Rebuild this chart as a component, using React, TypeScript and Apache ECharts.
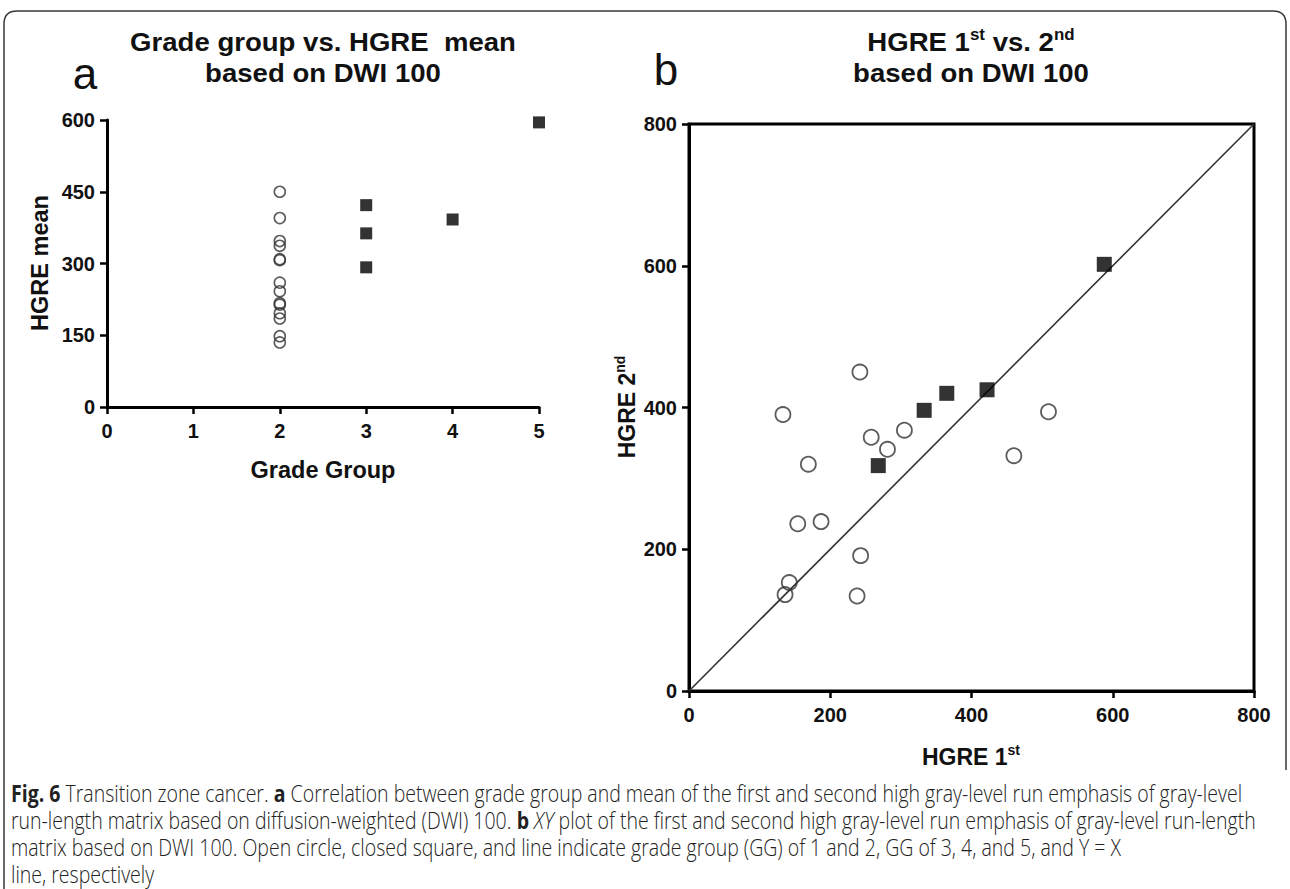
import React, { useEffect, useRef } from "react";
import * as echarts from "echarts";

// ---- Panel a: grade group vs HGRE mean ----
const gradeTicks = [0, 1, 2, 3, 4, 5];
const meanTicks = [0, 150, 300, 450, 600];
const aCircleGrade = [2, 2, 2, 2, 2, 2, 2, 2, 2, 2, 2, 2, 2, 2];
const aCircleMean = [450, 395, 347, 337, 309, 307, 260, 242, 217, 214, 196, 185, 148, 135];
const aSquareGrade = [3, 3, 3, 4, 5];
const aSquareMean = [422, 363, 292, 392, 595];

// ---- Panel b: HGRE 1st vs 2nd ----
const hgreTicks = [0, 200, 400, 600, 800];
const bCircleFirst = [242, 133, 509, 305, 258, 281, 460, 169, 154, 187, 243, 142, 136, 238];
const bCircleSecond = [450, 390, 394, 368, 358, 341, 332, 320, 236, 239, 191, 153, 136, 134];
const bSquareFirst = [588, 422, 365, 333, 268];
const bSquareSecond = [602, 425, 420, 396, 318];
const identityLine = [
  [0, 0],
  [800, 800],
];

const captionLines = [
  "{b|Fig. 6} Transition zone cancer. {b|a} Correlation between grade group and mean of the first and second high gray-level run emphasis of gray-level",
  "run-length matrix based on diffusion-weighted (DWI) 100. {b|b} {i|XY} plot of the first and second high gray-level run emphasis of gray-level run-length",
  "matrix based on DWI 100. Open circle, closed square, and line indicate grade group (GG) of 1 and 2, GG of 3, 4, and 5, and Y = X",
  "line, respectively",
];

const ARIAL = "'Liberation Sans', Arial, Helvetica, sans-serif";
const CAP_FONT = "'Open Sans', 'Noto Sans', sans-serif";
const CAP_SIZE = 23;

echarts.graphic.registerShape(
  "frame",
  echarts.graphic.extendPath(
    "M4 889 L4 24 Q4 11 17 11 L1273 11 Q1286 11 1286 24 L1286 770",
    {}
  )
);

function captionScale(): number {
  try {
    const c = document.createElement("canvas");
    const ctx = c.getContext("2d");
    if (!ctx) return 0.74;
    ctx.font = `300 ${CAP_SIZE}px ${CAP_FONT}`;
    const plain = captionLines[0].replace(/\{[a-z]+\|([^}]*)\}/g, "$1");
    const w = ctx.measureText(plain).width;
    if (!w) return 0.74;
    return 1226 / w;
  } catch (e) {
    return 0.74;
  }
}

function axisCommon() {
  return {
    axisLine: { show: true, lineStyle: { color: "#000", width: 3 } },
    axisTick: { show: true, inside: false, length: 7, lineStyle: { color: "#000", width: 2.5 } },
    splitLine: { show: false },
    axisLabel: {
      color: "#111",
      fontSize: 20,
      fontWeight: "bold" as const,
      fontFamily: ARIAL,
    },
  };
}

export default function App() {
  const ref = useRef<HTMLDivElement>(null);

  useEffect(() => {
    if (!ref.current) return;
    const chart = echarts.init(ref.current, undefined, { renderer: "svg" });
    const sx = captionScale();

    const titleStyle = (text: string) => ({
      text,
      fontSize: 26,
      fontWeight: "bold",
      fontFamily: ARIAL,
      fill: "#111",
      textAlign: "center",
      textVerticalAlign: "middle",
    });
    const titleRich = {
      sup: { fontSize: 16, fontWeight: "bold", fontFamily: ARIAL, verticalAlign: "top", lineHeight: 14, fill: "#111" },
      base: { fontSize: 26, fontWeight: "bold", fontFamily: ARIAL, lineHeight: 31, fill: "#111" },
    };
    const axisRich = {
      sup: { fontSize: 14, fontWeight: "bold", fontFamily: ARIAL, verticalAlign: "top", lineHeight: 13, fill: "#111" },
      base: { fontSize: 23, fontWeight: "bold", fontFamily: ARIAL, lineHeight: 28, fill: "#111" },
    };

    const graphics: any[] = [
      {
        type: "frame",
        x: 0,
        y: 0,
        silent: true,
        style: { fill: "none", stroke: "#3a3a3a", lineWidth: 1.5 },
      },
      // panel letters
      {
        type: "text",
        x: 85,
        y: 73,
        style: { text: "a", fontSize: 44, fontFamily: ARIAL, fill: "#111", textAlign: "center", textVerticalAlign: "middle" },
      },
      {
        type: "text",
        x: 666,
        y: 69,
        style: { text: "b", fontSize: 44, fontFamily: ARIAL, fill: "#111", textAlign: "center", textVerticalAlign: "middle" },
      },
      // panel a title
      { type: "text", x: 323, y: 42, scaleX: 1.06, style: titleStyle("Grade group vs. HGRE  mean") },
      { type: "text", x: 323, y: 73, scaleX: 1.06, style: titleStyle("based on DWI 100") },
      // panel b title
      {
        type: "text",
        x: 971,
        y: 42,
        scaleX: 1.06,
        style: {
          text: "{base|HGRE 1}{sup|st}{base| vs. 2}{sup|nd}",
          rich: titleRich,
          textAlign: "center",
          textVerticalAlign: "middle",
        },
      },
      { type: "text", x: 971, y: 73, scaleX: 1.06, style: titleStyle("based on DWI 100") },
      // axis titles panel a
      {
        type: "text",
        x: 323,
        y: 470,
        style: { text: "Grade Group", fontSize: 23.5, fontWeight: "bold", fontFamily: ARIAL, fill: "#111", textAlign: "center", textVerticalAlign: "middle" },
      },
      {
        type: "text",
        x: 40,
        y: 263,
        rotation: Math.PI / 2,
        style: { text: "HGRE mean", fontSize: 23.5, fontWeight: "bold", fontFamily: ARIAL, fill: "#111", textAlign: "center", textVerticalAlign: "middle" },
      },
      // axis titles panel b
      {
        type: "text",
        x: 971,
        y: 757,
        style: {
          text: "{base|HGRE 1}{sup|st}",
          rich: axisRich,
          textAlign: "center",
          textVerticalAlign: "middle",
        },
      },
      {
        type: "text",
        x: 627,
        y: 407,
        rotation: Math.PI / 2,
        style: {
          text: "{base|HGRE 2}{sup|nd}",
          rich: axisRich,
          textAlign: "center",
          textVerticalAlign: "middle",
        },
      },
    ];

    captionLines.forEach((line, i) => {
      graphics.push({
        type: "text",
        x: 11,
        y: 793 + i * 27,
        scaleX: sx,
        scaleY: 1,
        style: {
          text: line,
          fontSize: CAP_SIZE,
          fontWeight: 300,
          fontFamily: CAP_FONT,
          fill: "#222",
          textAlign: "left",
          textVerticalAlign: "middle",
          rich: {
            b: { fontSize: CAP_SIZE, fontWeight: "bold", fontFamily: CAP_FONT, fill: "#222" },
            i: { fontSize: CAP_SIZE, fontWeight: 300, fontStyle: "italic", fontFamily: CAP_FONT, fill: "#222" },
          },
        },
      });
    });

    const ax = axisCommon();

    chart.setOption({
      animation: false,
      backgroundColor: "#fff",
      grid: [
        { left: 107, top: 120, width: 432, height: 287, show: false },
        { left: 689, top: 124, width: 565, height: 567, show: true, borderColor: "#000", borderWidth: 3, backgroundColor: "transparent" },
      ],
      xAxis: [
        {
          gridIndex: 0,
          type: "value",
          min: gradeTicks[0],
          max: gradeTicks[gradeTicks.length - 1],
          interval: 1,
          ...ax,
          axisLabel: { ...ax.axisLabel, margin: 14 },
        },
        {
          gridIndex: 1,
          type: "value",
          min: hgreTicks[0],
          max: hgreTicks[hgreTicks.length - 1],
          interval: 200,
          ...ax,
          axisLabel: { ...ax.axisLabel, margin: 14 },
        },
      ],
      yAxis: [
        {
          gridIndex: 0,
          type: "value",
          min: meanTicks[0],
          max: meanTicks[meanTicks.length - 1],
          interval: 150,
          ...ax,
          axisLabel: { ...ax.axisLabel, margin: 12 },
        },
        {
          gridIndex: 1,
          type: "value",
          min: hgreTicks[0],
          max: hgreTicks[hgreTicks.length - 1],
          interval: 200,
          ...ax,
          axisLabel: { ...ax.axisLabel, margin: 12 },
        },
      ],
      series: [
        {
          type: "scatter",
          xAxisIndex: 0,
          yAxisIndex: 0,
          symbol: "circle",
          symbolSize: 11,
          clip: false,
          silent: true,
          z: 3,
          itemStyle: { color: "rgba(0,0,0,0)", borderColor: "#333", borderWidth: 1.6 },
          data: aCircleGrade.map((g, i) => [g, aCircleMean[i]]),
        },
        {
          type: "scatter",
          xAxisIndex: 0,
          yAxisIndex: 0,
          symbol: "rect",
          symbolSize: 12,
          clip: false,
          silent: true,
          z: 3,
          itemStyle: { color: "#000" },
          data: aSquareGrade.map((g, i) => [g, aSquareMean[i]]),
        },
        {
          type: "line",
          xAxisIndex: 1,
          yAxisIndex: 1,
          symbol: "none",
          silent: true,
          z: 2,
          lineStyle: { color: "#333", width: 1.6 },
          data: identityLine,
        },
        {
          type: "scatter",
          xAxisIndex: 1,
          yAxisIndex: 1,
          symbol: "circle",
          symbolSize: 15,
          clip: false,
          silent: true,
          z: 3,
          itemStyle: { color: "rgba(0,0,0,0)", borderColor: "#333", borderWidth: 1.8 },
          data: bCircleFirst.map((v, i) => [v, bCircleSecond[i]]),
        },
        {
          type: "scatter",
          xAxisIndex: 1,
          yAxisIndex: 1,
          symbol: "rect",
          symbolSize: 15,
          clip: false,
          silent: true,
          z: 3,
          itemStyle: { color: "#000" },
          data: bSquareFirst.map((v, i) => [v, bSquareSecond[i]]),
        },
      ],
      graphic: graphics,
    });

    return () => {
      chart.dispose();
    };
  }, []);

  return (
    <div
      ref={ref}
      style={{ position: "absolute", left: 0, top: 0, width: 1290, height: 889, background: "#fff" }}
    />
  );
}
